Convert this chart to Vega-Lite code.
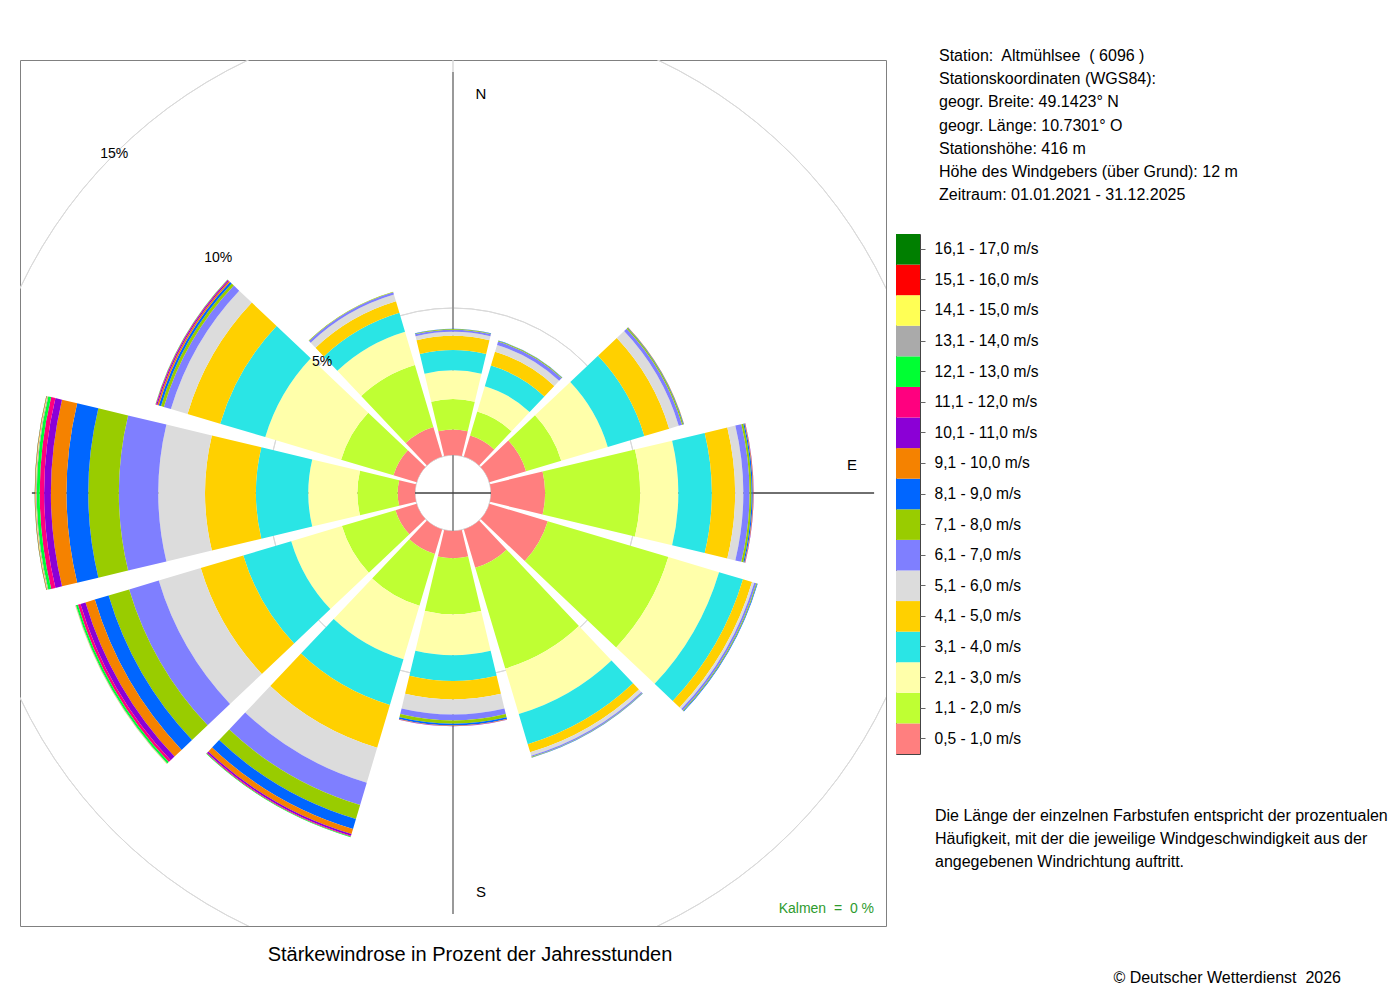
{
  "$schema": "https://vega.github.io/schema/vega-lite/v6.json",
  "padding": {"left": 19, "top": 48, "right": 0, "bottom": 0},
  "background": "white",
  "config": {"font": "Liberation Sans", "view": {"stroke": null}, "text": {"color": "#000000"}},
  "datasets": {
    "rose": [
      {"dir": 0, "cls": 1, "pct": 0.87}, {"dir": 0, "cls": 2, "pct": 1.03}, {"dir": 0, "cls": 3, "pct": 0.98}, {"dir": 0, "cls": 4, "pct": 0.69}, {"dir": 0, "cls": 5, "pct": 0.48}, {"dir": 0, "cls": 6, "pct": 0.14}, {"dir": 0, "cls": 7, "pct": 0.07}, {"dir": 0, "cls": 8, "pct": 0.02}, {"dir": 0, "cls": 9, "pct": 0.01},
      {"dir": 30, "cls": 1, "pct": 0.75}, {"dir": 30, "cls": 2, "pct": 0.85}, {"dir": 30, "cls": 3, "pct": 0.9}, {"dir": 30, "cls": 4, "pct": 0.73}, {"dir": 30, "cls": 5, "pct": 0.49}, {"dir": 30, "cls": 6, "pct": 0.24}, {"dir": 30, "cls": 7, "pct": 0.12}, {"dir": 30, "cls": 8, "pct": 0.03}, {"dir": 30, "cls": 9, "pct": 0.01},
      {"dir": 60, "cls": 1, "pct": 1.3}, {"dir": 60, "cls": 2, "pct": 1.25}, {"dir": 60, "cls": 3, "pct": 1.65}, {"dir": 60, "cls": 4, "pct": 1.3}, {"dir": 60, "cls": 5, "pct": 0.88}, {"dir": 60, "cls": 6, "pct": 0.34}, {"dir": 60, "cls": 7, "pct": 0.12}, {"dir": 60, "cls": 8, "pct": 0.04}, {"dir": 60, "cls": 9, "pct": 0.02}, {"dir": 60, "cls": 10, "pct": 0.01},
      {"dir": 90, "cls": 1, "pct": 1.84}, {"dir": 90, "cls": 2, "pct": 3.23}, {"dir": 90, "cls": 3, "pct": 1.3}, {"dir": 90, "cls": 4, "pct": 1.14}, {"dir": 90, "cls": 5, "pct": 0.79}, {"dir": 90, "cls": 6, "pct": 0.28}, {"dir": 90, "cls": 7, "pct": 0.21}, {"dir": 90, "cls": 8, "pct": 0.07}, {"dir": 90, "cls": 9, "pct": 0.04}, {"dir": 90, "cls": 10, "pct": 0.02}, {"dir": 90, "cls": 11, "pct": 0.01},
      {"dir": 120, "cls": 1, "pct": 2.07}, {"dir": 120, "cls": 2, "pct": 4.28}, {"dir": 120, "cls": 3, "pct": 1.8}, {"dir": 120, "cls": 4, "pct": 0.85}, {"dir": 120, "cls": 5, "pct": 0.32}, {"dir": 120, "cls": 6, "pct": 0.08}, {"dir": 120, "cls": 7, "pct": 0.07}, {"dir": 120, "cls": 8, "pct": 0.03}, {"dir": 120, "cls": 9, "pct": 0.02},
      {"dir": 150, "cls": 1, "pct": 1.36}, {"dir": 150, "cls": 2, "pct": 3.58}, {"dir": 150, "cls": 3, "pct": 1.61}, {"dir": 150, "cls": 4, "pct": 1.07}, {"dir": 150, "cls": 5, "pct": 0.29}, {"dir": 150, "cls": 6, "pct": 0.12}, {"dir": 150, "cls": 7, "pct": 0.04}, {"dir": 150, "cls": 8, "pct": 0.02}, {"dir": 150, "cls": 9, "pct": 0.01},
      {"dir": 180, "cls": 1, "pct": 0.93}, {"dir": 180, "cls": 2, "pct": 1.9}, {"dir": 180, "cls": 3, "pct": 1.39}, {"dir": 180, "cls": 4, "pct": 0.88}, {"dir": 180, "cls": 5, "pct": 0.63}, {"dir": 180, "cls": 6, "pct": 0.51}, {"dir": 180, "cls": 7, "pct": 0.2}, {"dir": 180, "cls": 8, "pct": 0.11}, {"dir": 180, "cls": 9, "pct": 0.06}, {"dir": 180, "cls": 10, "pct": 0.02}, {"dir": 180, "cls": 11, "pct": 0.01},
      {"dir": 210, "cls": 1, "pct": 0.87}, {"dir": 210, "cls": 2, "pct": 1.84}, {"dir": 210, "cls": 3, "pct": 1.9}, {"dir": 210, "cls": 4, "pct": 1.62}, {"dir": 210, "cls": 5, "pct": 1.52}, {"dir": 210, "cls": 6, "pct": 1.24}, {"dir": 210, "cls": 7, "pct": 0.79}, {"dir": 210, "cls": 8, "pct": 0.5}, {"dir": 210, "cls": 9, "pct": 0.35}, {"dir": 210, "cls": 10, "pct": 0.18}, {"dir": 210, "cls": 11, "pct": 0.06}, {"dir": 210, "cls": 12, "pct": 0.03}, {"dir": 210, "cls": 13, "pct": 0.02},
      {"dir": 240, "cls": 1, "pct": 0.75}, {"dir": 240, "cls": 2, "pct": 1.9}, {"dir": 240, "cls": 3, "pct": 1.8}, {"dir": 240, "cls": 4, "pct": 1.7}, {"dir": 240, "cls": 5, "pct": 1.51}, {"dir": 240, "cls": 6, "pct": 1.49}, {"dir": 240, "cls": 7, "pct": 1.05}, {"dir": 240, "cls": 8, "pct": 0.73}, {"dir": 240, "cls": 9, "pct": 0.49}, {"dir": 240, "cls": 10, "pct": 0.33}, {"dir": 240, "cls": 11, "pct": 0.18}, {"dir": 240, "cls": 12, "pct": 0.09}, {"dir": 240, "cls": 13, "pct": 0.07}, {"dir": 240, "cls": 14, "pct": 0.02}, {"dir": 240, "cls": 15, "pct": 0.01},
      {"dir": 270, "cls": 1, "pct": 0.59}, {"dir": 270, "cls": 2, "pct": 1.37}, {"dir": 270, "cls": 3, "pct": 1.67}, {"dir": 270, "cls": 4, "pct": 1.78}, {"dir": 270, "cls": 5, "pct": 1.73}, {"dir": 270, "cls": 6, "pct": 1.59}, {"dir": 270, "cls": 7, "pct": 1.34}, {"dir": 270, "cls": 8, "pct": 1.04}, {"dir": 270, "cls": 9, "pct": 0.74}, {"dir": 270, "cls": 10, "pct": 0.53}, {"dir": 270, "cls": 11, "pct": 0.23}, {"dir": 270, "cls": 12, "pct": 0.15}, {"dir": 270, "cls": 13, "pct": 0.1}, {"dir": 270, "cls": 14, "pct": 0.03}, {"dir": 270, "cls": 15, "pct": 0.02}, {"dir": 270, "cls": 16, "pct": 0.01}, {"dir": 270, "cls": 17, "pct": 0.01},
      {"dir": 300, "cls": 1, "pct": 0.82}, {"dir": 300, "cls": 2, "pct": 1.86}, {"dir": 300, "cls": 3, "pct": 2.69}, {"dir": 300, "cls": 4, "pct": 1.6}, {"dir": 300, "cls": 5, "pct": 1.16}, {"dir": 300, "cls": 6, "pct": 0.59}, {"dir": 300, "cls": 7, "pct": 0.25}, {"dir": 300, "cls": 8, "pct": 0.1}, {"dir": 300, "cls": 9, "pct": 0.08}, {"dir": 300, "cls": 10, "pct": 0.05}, {"dir": 300, "cls": 11, "pct": 0.04}, {"dir": 300, "cls": 12, "pct": 0.02}, {"dir": 300, "cls": 13, "pct": 0.01},
      {"dir": 330, "cls": 1, "pct": 1.05}, {"dir": 330, "cls": 2, "pct": 2.2}, {"dir": 330, "cls": 3, "pct": 1.18}, {"dir": 330, "cls": 4, "pct": 0.67}, {"dir": 330, "cls": 5, "pct": 0.41}, {"dir": 330, "cls": 6, "pct": 0.24}, {"dir": 330, "cls": 7, "pct": 0.08}, {"dir": 330, "cls": 8, "pct": 0.02}
    ],
    "rings": [
      {"ring": 0, "label": ""}, {"ring": 5, "label": "5%"}, {"ring": 10, "label": "10%"}, {"ring": 15, "label": "15%"}
    ],
    "compass": [
      {"deg": 0, "label": "N"}, {"deg": 90, "label": "E"}, {"deg": 180, "label": "S"}, {"deg": 270, "label": ""}
    ],
    "classes": [
      {"cls": 1, "label": "0,5 - 1,0 m/s"}, {"cls": 2, "label": "1,1 - 2,0 m/s"}, {"cls": 3, "label": "2,1 - 3,0 m/s"},
      {"cls": 4, "label": "3,1 - 4,0 m/s"}, {"cls": 5, "label": "4,1 - 5,0 m/s"}, {"cls": 6, "label": "5,1 - 6,0 m/s"},
      {"cls": 7, "label": "6,1 - 7,0 m/s"}, {"cls": 8, "label": "7,1 - 8,0 m/s"}, {"cls": 9, "label": "8,1 - 9,0 m/s"},
      {"cls": 10, "label": "9,1 - 10,0 m/s"}, {"cls": 11, "label": "10,1 - 11,0 m/s"}, {"cls": 12, "label": "11,1 - 12,0 m/s"},
      {"cls": 13, "label": "12,1 - 13,0 m/s"}, {"cls": 14, "label": "13,1 - 14,0 m/s"}, {"cls": 15, "label": "14,1 - 15,0 m/s"},
      {"cls": 16, "label": "15,1 - 16,0 m/s"}, {"cls": 17, "label": "16,1 - 17,0 m/s"}
    ],
    "info": [
      {"line": 1, "text": "Station:\u00a0 Altmühlsee\u00a0 ( 6096 )"},
      {"line": 2, "text": "Stationskoordinaten (WGS84):"},
      {"line": 3, "text": "geogr. Breite: 49.1423° N"},
      {"line": 4, "text": "geogr. Länge: 10.7301° O"},
      {"line": 5, "text": "Stationshöhe: 416 m"},
      {"line": 6, "text": "Höhe des Windgebers (über Grund): 12 m"},
      {"line": 7, "text": "Zeitraum: 01.01.2021 - 31.12.2025"}
    ],
    "notes": [
      {"line": 1, "text": "Die Länge der einzelnen Farbstufen entspricht der prozentualen"},
      {"line": 2, "text": "Häufigkeit, mit der die jeweilige Windgeschwindigkeit aus der"},
      {"line": 3, "text": "angegebenen Windrichtung auftritt."}
    ]
  },
  "spacing": 10,
  "bounds": "flush",
  "hconcat": [
    {
      "width": 866,
      "height": 866,
      "view": {"stroke": "#808080", "strokeWidth": 1},
      "title": {
        "text": "Stärkewindrose in Prozent der Jahresstunden",
        "orient": "bottom",
        "anchor": "middle",
        "fontSize": 20,
        "fontWeight": "normal",
        "color": "#000000",
        "offset": 19,
        "dx": 17
      },
      "resolve": {"scale": {"theta": "independent"}},
      "layer": [
        {
          "data": {"name": "rings"},
          "mark": {"type": "arc", "filled": false, "stroke": "#D9D9D9", "strokeWidth": 1, "theta": 0, "theta2": 6.283185, "clip": true},
          "encoding": {
            "radius": {"field": "ring", "type": "quantitative", "scale": {"type": "linear", "domain": [0, 15], "range": [38, 479], "zero": false, "nice": false}}
          }
        },
        {
          "data": {"name": "compass"},
          "transform": [{"filter": "datum.deg % 180 == 0"}],
          "mark": {"type": "arc", "filled": false, "stroke": "#999999", "strokeWidth": 2},
          "encoding": {
            "theta": {"field": "deg", "type": "quantitative", "stack": null, "scale": {"domain": [0, 360], "range": [0, 6.283185], "zero": false, "nice": false}},
            "theta2": {"field": "deg"},
            "radius": {"datum": 13.03, "type": "quantitative", "scale": {"type": "linear", "domain": [0, 15], "range": [38, 479], "zero": false, "nice": false}},
            "radius2": {"datum": -1.2925}
          }
        },
        {
          "data": {"name": "compass"},
          "transform": [{"filter": "datum.deg % 180 == 90"}],
          "mark": {"type": "arc", "filled": false, "stroke": "#404040", "strokeWidth": 1},
          "encoding": {
            "theta": {"field": "deg", "type": "quantitative", "stack": null, "scale": {"domain": [0, 360], "range": [0, 6.283185], "zero": false, "nice": false}},
            "theta2": {"field": "deg"},
            "radius": {"datum": 13.03, "type": "quantitative", "scale": {"type": "linear", "domain": [0, 15], "range": [38, 479], "zero": false, "nice": false}},
            "radius2": {"datum": -1.2925}
          }
        },
        {
          "data": {"name": "rose"},
          "transform": [
            {"stack": "pct", "groupby": ["dir"], "sort": [{"field": "cls", "order": "ascending"}], "as": ["r0", "r1"]}
          ],
          "mark": {"type": "arc"},
          "encoding": {
            "theta": {
              "field": "dir",
              "type": "ordinal",
              "scale": {
                "type": "band",
                "domain": [0, 30, 60, 90, 120, 150, 180, 210, 240, 270, 300, 330],
                "range": [-0.261799, 6.021386],
                "paddingInner": 0.105,
                "paddingOuter": 0.0525
              }
            },
            "radius": {"field": "r1", "type": "quantitative", "stack": null, "scale": {"type": "linear", "domain": [0, 15], "range": [38, 479], "zero": false, "nice": false}},
            "radius2": {"field": "r0"},
            "color": {
              "field": "cls",
              "type": "ordinal",
              "legend": null,
              "scale": {
                "domain": [1, 2, 3, 4, 5, 6, 7, 8, 9, 10, 11, 12, 13, 14, 15, 16, 17],
                "range": ["#FF7F7F", "#BFFF33", "#FFFFAA", "#2AE5E5", "#FFD000", "#DCDCDC", "#7F7FFF", "#99CC00", "#0066FF", "#F58200", "#8B00D6", "#FF007F", "#00FF33", "#AAAAAA", "#FFFF55", "#FF0000", "#007F00"]
              }
            }
          }
        },
        {
          "data": {"name": "rings"},
          "mark": {"type": "text", "theta": 5.497787, "fontSize": 14, "align": "center", "baseline": "middle"},
          "encoding": {
            "radius": {"field": "ring", "type": "quantitative", "scale": {"type": "linear", "domain": [0, 15], "range": [38, 479], "zero": false, "nice": false}},
            "text": {"field": "label"}
          }
        },
        {
          "data": {"name": "compass"},
          "transform": [{"filter": "datum.deg == 0 || datum.deg == 180"}],
          "mark": {"type": "text", "fontSize": 15, "align": "center", "baseline": "middle", "dx": 28},
          "encoding": {
            "theta": {"field": "deg", "type": "quantitative", "stack": null, "scale": {"domain": [0, 360], "range": [0, 6.283185], "zero": false, "nice": false}},
            "radius": {"datum": 12.28, "type": "quantitative", "scale": {"type": "linear", "domain": [0, 15], "range": [38, 479], "zero": false, "nice": false}},
            "text": {"field": "label"}
          }
        },
        {
          "data": {"name": "compass"},
          "transform": [{"filter": "datum.deg == 90"}],
          "mark": {"type": "text", "fontSize": 15, "align": "center", "baseline": "middle", "dy": -28},
          "encoding": {
            "theta": {"field": "deg", "type": "quantitative", "stack": null, "scale": {"domain": [0, 360], "range": [0, 6.283185], "zero": false, "nice": false}},
            "radius": {"datum": 12.28, "type": "quantitative", "scale": {"type": "linear", "domain": [0, 15], "range": [38, 479], "zero": false, "nice": false}},
            "text": {"field": "label"}
          }
        },
        {
          "data": {"values": [{"label": "Kalmen\u00a0 =\u00a0 0 %"}]},
          "mark": {"type": "text", "align": "right", "baseline": "middle", "dx": 421, "dy": 416, "fontSize": 14, "color": "#2E9B2E"},
          "encoding": {"text": {"field": "label"}}
        }
      ]
    },
    {
      "spacing": 0,
      "bounds": "flush",
      "vconcat": [
        {
          "width": 24,
          "height": 173.5,
          "data": {"name": "info"},
          "mark": {"type": "text", "align": "left", "baseline": "middle", "dx": 31, "fontSize": 16},
          "encoding": {
            "y": {"field": "line", "type": "quantitative", "axis": null, "scale": {"domain": [1, 7], "range": [-4, 135], "zero": false, "nice": false}},
            "text": {"field": "text"}
          }
        },
        {
          "width": 24,
          "height": 520,
          "view": {"stroke": "#444444", "strokeWidth": 1},
          "data": {"name": "classes"},
          "mark": {"type": "rect"},
          "encoding": {
            "y": {
              "field": "label",
              "type": "ordinal",
              "sort": {"field": "cls", "order": "descending"},
              "scale": {"paddingInner": 0, "paddingOuter": 0},
              "axis": {"orient": "right", "title": null, "domain": false, "ticks": true, "tickSize": 5, "tickColor": "#666666", "labelFontSize": 15.6, "labelPadding": 9, "labelColor": "#000000"}
            },
            "color": {
              "field": "cls",
              "type": "ordinal",
              "legend": null,
              "scale": {
                "domain": [1, 2, 3, 4, 5, 6, 7, 8, 9, 10, 11, 12, 13, 14, 15, 16, 17],
                "range": ["#FF7F7F", "#BFFF33", "#FFFFAA", "#2AE5E5", "#FFD000", "#DCDCDC", "#7F7FFF", "#99CC00", "#0066FF", "#F58200", "#8B00D6", "#FF007F", "#00FF33", "#AAAAAA", "#FFFF55", "#FF0000", "#007F00"]
              }
            }
          }
        },
        {
          "width": 24,
          "height": 200,
          "data": {"name": "notes"},
          "mark": {"type": "text", "align": "left", "baseline": "middle", "dx": 27, "fontSize": 16},
          "encoding": {
            "y": {"field": "line", "type": "quantitative", "axis": null, "scale": {"domain": [1, 3], "range": [61.5, 107.5], "zero": false, "nice": false}},
            "text": {"field": "text"}
          }
        },
        {
          "width": 24,
          "height": 47,
          "data": {"values": [{"text": "© Deutscher Wetterdienst\u00a0 2026"}]},
          "mark": {"type": "text", "align": "right", "baseline": "middle", "dx": 433, "fontSize": 16},
          "encoding": {"text": {"field": "text"}}
        }
      ]
    }
  ]
}
